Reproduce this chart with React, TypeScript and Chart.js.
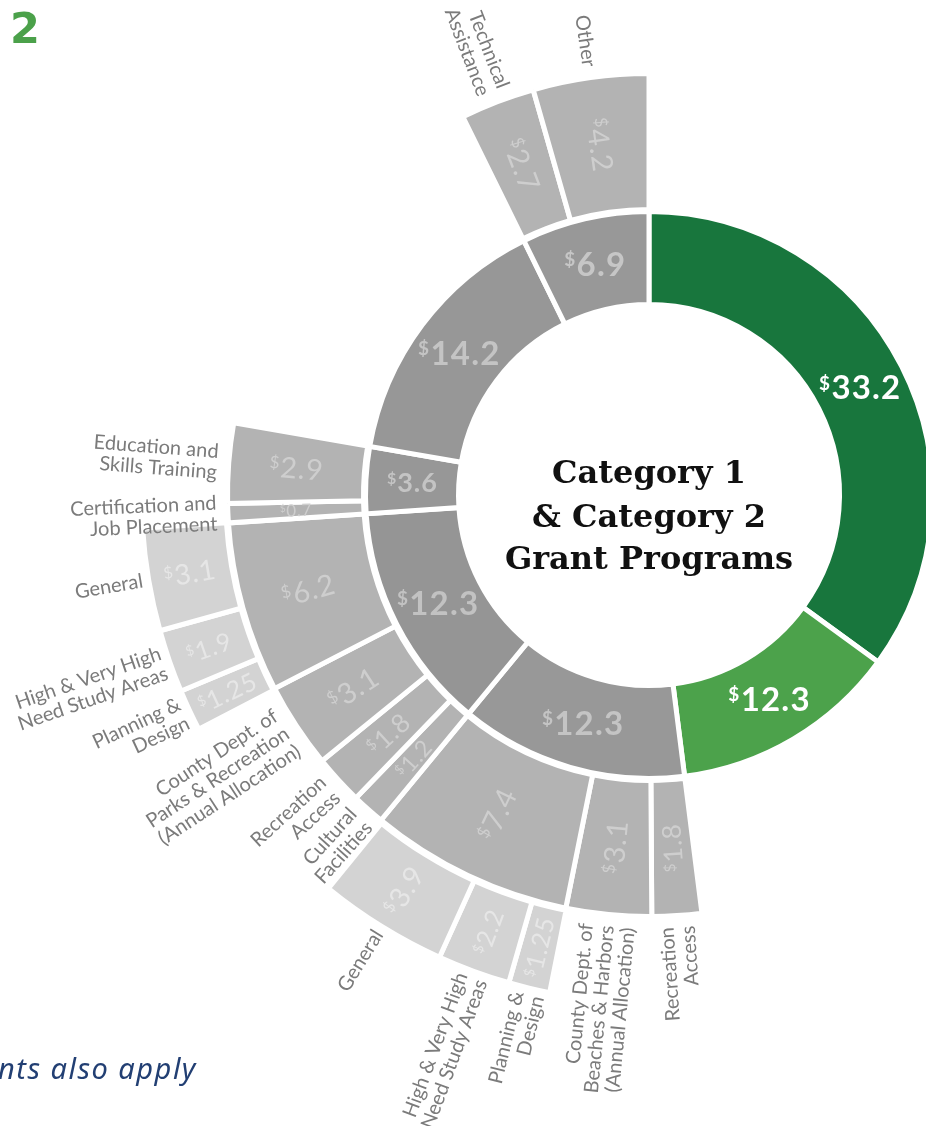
import React, { useEffect, useRef } from "react";
import { Chart, registerables } from "chart.js";

Chart.register(...registerables);

// ---- data ($ millions); every ring is read clockwise from 12 o'clock ----
const ring1Values = [33.2, 12.3, 12.3, 12.3, 3.6, 14.2, 6.9];

const beachesValues = [1.8, 3.1, 7.4];
const beachesLabels = ["Recreation\nAccess", "County Dept. of\nBeaches & Harbors\n(Annual Allocation)", ""];
const parksValues = [1.2, 1.8, 3.1, 6.2];
const parksLabels = ["Cultural\nFacilities", "Recreation\nAccess", "County Dept. of\nParks & Recreation\n(Annual Allocation)", ""];
const workforceValues = [0.7, 2.9];
const workforceLabels = ["Certification and\nJob Placement", "Education and\nSkills Training"];
const supportValues = [2.7, 4.2];
const supportLabels = ["Technical\nAssistance", "Other"];

const beachesGrantValues = [1.25, 2.2, 3.9];
const parksGrantValues = [1.25, 1.9, 3.1];
const grantLabels = ["Planning &\nDesign", "High & Very High\nNeed Study Areas", "General"];

const titleLines = ["Category 1", "& Category 2", "Grant Programs"];

type Group = { values: number[]; labels: string[]; sub?: Record<number, Group> };
type Seg = { value: number; label: string; shown: boolean; group?: Group };

const ring2Groups: Record<number, Group> = {
  2: { values: beachesValues, labels: beachesLabels, sub: { 2: { values: beachesGrantValues, labels: grantLabels } } },
  3: { values: parksValues, labels: parksLabels, sub: { 3: { values: parksGrantValues, labels: grantLabels } } },
  4: { values: workforceValues, labels: workforceLabels },
  6: { values: supportValues, labels: supportLabels },
};

function expand(parents: Seg[]): Seg[] {
  const out: Seg[] = [];
  for (const p of parents) {
    const g = p.shown ? p.group : undefined;
    if (!g) {
      out.push({ value: p.value, label: "", shown: false });
      continue;
    }
    g.values.forEach((v, j) => out.push({ value: v, label: g.labels[j], shown: true, group: g.sub ? g.sub[j] : undefined }));
    const rest = p.value - g.values.reduce((a, b) => a + b, 0);
    if (rest > 1e-9) out.push({ value: rest, label: "", shown: false });
  }
  return out;
}

const FONT = "Lato, 'Open Sans', sans-serif";

function drawValue(
  ctx: CanvasRenderingContext2D,
  text: string,
  cx: number,
  cy: number,
  rot: number,
  size: number,
  color: string,
  weight: string
) {
  ctx.save();
  ctx.translate(cx, cy);
  ctx.rotate(rot);
  const c = ctx as any;
  const ds = Math.round(size * 0.58);
  c.letterSpacing = "0px";
  ctx.font = `${weight} ${ds}px ${FONT}`;
  const wD = ctx.measureText("$").width;
  c.letterSpacing = `${(size * 0.035).toFixed(1)}px`;
  ctx.font = `${weight} ${size}px ${FONT}`;
  const wN = ctx.measureText(text).width;
  const gap = size * 0.04;
  const x0 = -(wD + gap + wN) / 2;
  const base = size * 0.36;
  ctx.fillStyle = color;
  ctx.textAlign = "left";
  ctx.textBaseline = "alphabetic";
  c.letterSpacing = "0px";
  ctx.font = `${weight} ${ds}px ${FONT}`;
  ctx.fillText("$", x0, base - size * 0.3);
  c.letterSpacing = `${(size * 0.035).toFixed(1)}px`;
  ctx.font = `${weight} ${size}px ${FONT}`;
  ctx.fillText(text, x0 + wD + gap, base);
  ctx.restore();
}

function drawName(ctx: CanvasRenderingContext2D, label: string, cx: number, cy: number, a: number, r: number) {
  const lines = label.split("\n");
  const lh = 21;
  ctx.save();
  ctx.translate(cx + r * Math.cos(a), cy + r * Math.sin(a));
  ctx.rotate(a + Math.PI);
  ctx.font = `400 20px ${FONT}`;
  ctx.fillStyle = "#7b7b7b";
  ctx.textAlign = "right";
  ctx.textBaseline = "middle";
  lines.forEach((ln, i) => ctx.fillText(ln, 0, (i - (lines.length - 1) / 2) * lh));
  ctx.restore();
}

export default function App() {
  const ref = useRef<HTMLCanvasElement>(null);

  useEffect(() => {
    const canvas = ref.current;
    if (!canvas) return;

    const ring1: Seg[] = ring1Values.map((v, i) => ({ value: v, label: "", shown: true, group: ring2Groups[i] }));
    const ring2 = expand(ring1);
    const ring3 = expand(ring2);

    const ring1Colors = ["#18763d", "#4ca24b", "#989898", "#959595", "#979797", "#979797", "#989898"];
    const ring1Text = ["#ffffff", "#ffffff", "#c4c4c4", "#c2c2c2", "#c4c4c4", "#c4c4c4", "#c6c6c6"];
    const clear = "rgba(0,0,0,0)";
    const BW = 5;

    const ringDataset = (segs: Seg[], color: (i: number) => string, weight: number) => ({
      data: segs.map((s) => s.value),
      backgroundColor: segs.map((s, i) => (s.shown ? color(i) : clear)),
      borderColor: "#ffffff",
      borderWidth: segs.map((s) => (s.shown ? BW : 0)),
      borderJoinStyle: "miter",
      hoverOffset: 0,
      weight,
      clip: false,
    });
    const spacer = (weight: number) => ({
      data: [1],
      backgroundColor: [clear],
      borderWidth: 0,
      hoverOffset: 0,
      weight,
      clip: false,
    });

    const OUTER = 507.5;
    const INNER = 190.5;

    const labelPlugin = {
      id: "sunburstLabels",
      afterDatasetsDraw(chart: any) {
        const ctx: CanvasRenderingContext2D = chart.ctx;
        const rings: [number, Seg[], number][] = [
          [4, ring1, 1],
          [2, ring2, 2],
          [0, ring3, 3],
        ];
        let cx = 0;
        let cy = 0;
        for (const [di, segs, level] of rings) {
          const meta = chart.getDatasetMeta(di);
          meta.data.forEach((el: any, j: number) => {
            const s = segs[j];
            if (!s || !s.shown) return;
            const { x, y, startAngle, endAngle, innerRadius, outerRadius } = el;
            cx = x;
            cy = y;
            const a = (startAngle + endAngle) / 2;
            const rm = (innerRadius + outerRadius) / 2;
            const px = x + rm * Math.cos(a);
            const py = y + rm * Math.sin(a);
            // clip the value text to its own segment
            ctx.save();
            ctx.beginPath();
            ctx.arc(x, y, outerRadius - 2, startAngle, endAngle);
            ctx.arc(x, y, innerRadius + 2, endAngle, startAngle, true);
            ctx.closePath();
            ctx.clip();
            if (level === 1) {
              const size = s.value >= 5 ? 33 : 27;
              drawValue(ctx, String(s.value), px, py, 0, size, ring1Text[j], "bold");
            } else if (level === 2) {
              const size = s.value < 1 ? 17 : s.value < 1.5 ? 23 : s.value < 2.5 ? 26 : 29;
              drawValue(ctx, String(s.value), px, py, a + Math.PI, size, "#cecece", "normal");
            } else {
              const size = s.value < 2.5 ? 25 : 28;
              drawValue(ctx, String(s.value), px, py, a + Math.PI, size, "#e6e6e6", "normal");
            }
            ctx.restore();
            if (s.label && !s.group) {
              drawName(ctx, s.label, x, y, a, outerRadius + (level === 3 ? 6 : 11));
            }
          });
        }
        // centre title
        ctx.save();
        ctx.fillStyle = "#111111";
        ctx.textAlign = "center";
        ctx.textBaseline = "alphabetic";
        ctx.font = "bold 32px 'DejaVu Serif', serif";
        const offs = [-12, 32, 74];
        titleLines.forEach((t, i) => ctx.fillText(t, cx, cy + offs[i]));
        ctx.restore();
      },
    };

    const chart = new Chart(canvas, {
      type: "doughnut",
      data: {
        datasets: [
          ringDataset(ring3, () => "#d3d3d3", 84),
          spacer(2),
          ringDataset(ring2, () => "#b3b3b3", 136),
          spacer(2),
          ringDataset(ring1, (i) => ring1Colors[i], 93),
        ] as any,
      },
      options: {
        responsive: false,
        animation: false,
        devicePixelRatio: 1,
        radius: OUTER,
        cutout: `${(INNER / OUTER) * 100}%`,
        rotation: 0,
        events: [],
        layout: { padding: { left: 0, right: 0, top: 0, bottom: 136 } },
        plugins: { legend: { display: false }, tooltip: { enabled: false } },
      } as any,
      plugins: [labelPlugin],
    });
    return () => chart.destroy();
  }, []);

  return (
    <div style={{ position: "absolute", left: 0, top: 0, width: 926, height: 1126, overflow: "hidden", background: "#ffffff" }}>
      <canvas ref={ref} width={1298} height={1126} style={{ position: "absolute", left: 0, top: 0, width: 1298, height: 1126 }} />
      <div
        style={{
          position: "absolute",
          left: 10,
          top: 7,
          fontFamily: "'DejaVu Sans', sans-serif",
          fontWeight: 700,
          fontSize: 43,
          lineHeight: 1,
          color: "#4ba14a",
        }}
      >
        2
      </div>
      <div
        style={{
          position: "absolute",
          left: -2,
          top: 1053,
          fontFamily: "'Noto Sans', sans-serif",
          fontStyle: "italic",
          fontSize: 29,
          letterSpacing: 1.5,
          lineHeight: 1,
          color: "#223f73",
          whiteSpace: "nowrap",
        }}
      >
        nts also apply
      </div>
    </div>
  );
}
